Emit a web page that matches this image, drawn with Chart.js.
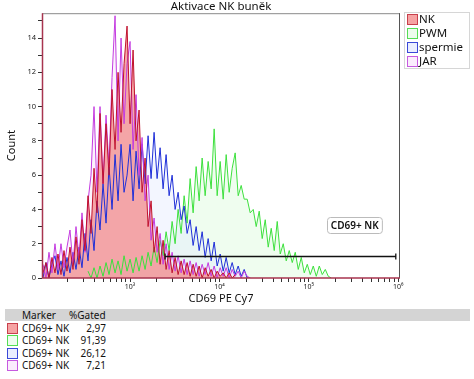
<!DOCTYPE html>
<html><head><meta charset="utf-8">
<script src="https://cdn.jsdelivr.net/npm/chart.js@4.4.1/dist/chart.umd.min.js"></script>
<style>
body{margin:0;background:#fff;font-family:"Noto Sans",sans-serif;}
#wrap{position:relative;width:474px;height:379px;overflow:hidden;background:#fff;}
#c{position:absolute;left:0;top:0;}
#legend{position:absolute;left:404px;top:12px;width:66px;height:57px;border:1px solid #d6d6d6;box-sizing:border-box;}
.li{position:absolute;left:2px;height:12px;font-size:11.5px;line-height:12px;color:#111;white-space:nowrap;}
.sw{position:absolute;left:0;top:0;width:11px;height:11px;border:1px solid;box-sizing:border-box;}
.li span.t{position:absolute;left:12px;top:-1px;}
#thead{position:absolute;left:5px;top:309px;width:465px;height:12px;background:#d4d4d4;font-size:10px;line-height:12px;color:#111;}
.row{position:absolute;left:0;height:12px;font-size:10px;line-height:12px;color:#111;}
.row .sw{left:7px;top:1px;width:11px;height:11px;}
.row .m{position:absolute;left:22px;white-space:nowrap;}
.row .v{position:absolute;left:70px;width:36px;text-align:right;}
</style></head>
<body><div id="wrap"><canvas id="c" width="474" height="306"></canvas>
<div id="legend"></div><div id="thead"><span style="position:absolute;left:17px">Marker</span><span style="position:absolute;left:64px">%Gated</span></div><div id="rows"></div></div>
<script>
// ---- data ----
const chartTitle = 'Aktivace NK buněk';
const seriesNames = ['NK','PWM','spermie','JAR'];
const markerNames = ['CD69+ NK','CD69+ NK','CD69+ NK','CD69+ NK'];
const gatedValues = ['2,97','91,39','26,12','7,21'];
const xTickLabels = {3:'10³',4:'10⁴',5:'10⁵',6:'10⁶'};
// histogram bins in log10 decades
const binStart = 2.0258, binStep = 0.0336;
const nkCounts = [0.3,0.9,0,1.2,0.3,1.4,0.2,1.6,0.4,1.8, 0.5,2.4,0.8,3.4,1.6,4.8,2.6,6.4,3.8,9.6,
  5.5,9.0,6.0,11.0,7.5,12.0,8.5,12.5,14.7,9.0, 13.3,8.0,9.8,5.0,7.0,3.0,4.5,1.5,3.0,0.8,
  2.2,0.5,1.6,0.3,1.2,0.2,1.0,0.2,0.9,0.1, 0.8,0.1,0.7,0,0.6,0.1,0.5,0,0.4,0.1, 0.3,0,0.3,0,0.2];
const jarCounts = [0.8,0,1.5,0.3,2.0,0.5,2.0,0.6,1.8,2.8, 0.8,3.0,1.2,3.8,1.5,4.5,6.0,10.0,5.0,10.0,
  5.5,9.5,6.5,11.7,15.3,8.0,14.0,9.0,12.5,13.8, 7.5,10.7,6.0,8.2,4.5,6.0,2.2,3.5,1.5,2.6,
  0.8,2.0,0.5,1.5,0.4,1.3,0.3,1.1,0.2,1.0, 0.2,0.9,0.1,0.8,0.2,0.9,0.1,0.7,0,0.6,
  0.1,0.6,0,0.5,0.1,0.4,0,0.4,0.1,0];
const spermieCounts = [0,0.9,0,0.8,1.3,0.2,1.0,0.1,1.2,0.3, 1.5,0.5,1.8,0.6,2.6,1.0,3.4,1.6,4.5,2.8,
  5.5,3.2,6.5,4.0,7.2,4.5,7.8,5.0,6.0,7.8, 4.5,7.4,5.2,7.8,5.5,8.3,5.8,8.5,5.8,7.6,
  5.2,7.2,4.8,6.0,4.0,5.0,3.4,4.2,2.6,3.4, 1.9,3.0,1.6,2.7,1.2,2.3,1.0,2.1,0.7,1.4,
  0.4,1.2,0.3,0.9,0.2,0.7,0.1,0.5,0,0];
const pwmFirstBin = 15;
const pwmCounts = [0.4,0,0.6,0,0.7, 0.1,0.9,0.2,1.1,0.3, 1.0,0.2,1.3,0.4,1.1, 0.3,1.2,0.4,1.3,0.5,
  1.5,0.7,1.8,0.9,2.2, 1.3,2.7,1.6,3.3,2.0, 4.0,2.6,4.8,3.2,5.8, 3.8,6.5,4.5,7.0,4.8,
  6.8,5.2,8.7,4.8,6.8, 4.6,7.2,5.0,6.4,7.3, 4.8,5.4,4.6,4.6,3.8, 4.0,3.0,3.9,2.3,3.4,
  1.8,2.9,1.6,3.3,1.4, 2.0,1.0,1.6,0.9,1.5, 0.5,1.2,0.3,0.8,0.2, 0.7,0.1,0.7,0.2,0.5, 0.1,0];
// gate marker
const gateFrom = 3.392, gateTo = 5.973, gateLevel = 1.30;
const gateLabel = 'CD69+ NK', gateLabelX = 5.514, gateLabelY = 3.08;

// ---- styles ----
const lineColors = ['#c0122e','#3ee03e','#2030d8','#c43ce0'];
const fillColors = ['rgba(243,146,146,0.8)','rgba(215,250,215,0.4)','rgba(222,228,255,0.35)','rgba(246,222,250,0.35)'];
const swatchFill = ['#f6a3a3','#eefcee','#eaeeff','#fbedfd'];
const swatchBorder = ['#c8404c','#55dd55','#3a48d8','#c65ae0'];

function toPoints(vals, first){ return vals.map((v,i)=>({x: binStart+(first+i)*binStep, y: v})); }

const seriesData = [toPoints(nkCounts,0), toPoints(pwmCounts,pwmFirstBin), toPoints(spermieCounts,0), toPoints(jarCounts,0)];
const drawOrder = [1,4,3,2]; // lower = on top
const datasets = seriesNames.map((n,i)=>({
  label:n, data:seriesData[i], borderColor:lineColors[i], backgroundColor:fillColors[i],
  borderWidth:1, pointRadius:0, tension:0, fill:'origin', order:drawOrder[i]
}));

// minor/major log ticks
const xTicks = [];
for (let d=2; d<=5; d++) for (let k=1; k<=9; k++) { const v = d + Math.log10(k); if (v>=2.02 && v<=6.01) xTicks.push(v); }
xTicks.push(6);

const framePlugin = {
  id:'frame',
  afterDatasetsDraw(chart){
    const {ctx, chartArea:a, scales:{x,y}} = chart;
    ctx.save();
    // title centred over plot area
    ctx.font = '11.5px "Noto Sans"'; ctx.fillStyle = '#111'; ctx.textAlign='center'; ctx.textBaseline='middle';
    ctx.fillText(chartTitle, (a.left+a.right)/2, 6.5);
    ctx.lineWidth = 1;
    ctx.strokeStyle = '#8a8a8a';
    ctx.beginPath(); ctx.moveTo(a.left, a.top+0.5); ctx.lineTo(a.right, a.top+0.5); ctx.stroke();
    ctx.strokeStyle = '#555';
    ctx.beginPath(); ctx.moveTo(a.right-0.5, a.top); ctx.lineTo(a.right-0.5, a.bottom); ctx.stroke();
    ctx.strokeStyle = '#a8344f'; ctx.lineWidth = 1.5;
    ctx.beginPath(); ctx.moveTo(a.left+0.5, a.top); ctx.lineTo(a.left+0.5, a.bottom); ctx.lineTo(a.right, a.bottom); ctx.stroke();
    // gate
    const xs = x.getPixelForValue(gateFrom), xe = x.getPixelForValue(gateTo), yy = Math.round(y.getPixelForValue(gateLevel))+0.5;
    ctx.strokeStyle = '#111'; ctx.lineWidth = 1.3;
    ctx.beginPath(); ctx.moveTo(xs,yy); ctx.lineTo(xe,yy);
    ctx.moveTo(xs,yy-3); ctx.lineTo(xs,yy+3); ctx.moveTo(xe,yy-3); ctx.lineTo(xe,yy+3); ctx.stroke();
    ctx.font = '600 10px "Noto Sans"';
    const tw = ctx.measureText(gateLabel).width;
    const cx = x.getPixelForValue(gateLabelX), cy = y.getPixelForValue(gateLabelY);
    const w = tw+7, h = 16;
    ctx.fillStyle = '#fff'; ctx.strokeStyle = '#bbb'; ctx.lineWidth = 1;
    ctx.beginPath(); ctx.roundRect(Math.round(cx-w/2)+0.5, Math.round(cy-h/2)+0.5, w, h, 3); ctx.fill(); ctx.stroke();
    ctx.fillStyle = '#111'; ctx.textAlign='center'; ctx.textBaseline='middle';
    ctx.fillText(gateLabel, cx, cy+1);
    ctx.restore();
  }
};

new Chart(document.getElementById('c'), {
  type:'line',
  data:{datasets},
  options:{
    responsive:false, animation:false, devicePixelRatio:1,
    layout:{padding:{left:0,right:74,top:13.2,bottom:1}},
    plugins:{
      legend:{display:false}, tooltip:{enabled:false},
      filler:{drawTime:'beforeDatasetsDraw'},
      title:{display:false}
    },
    scales:{
      x:{type:'linear', min:2.015, max:6.02,
        afterBuildTicks(s){ s.ticks = xTicks.map(v=>({value:v})); },
        afterFit(s){ s.height = 27; },
        grid:{drawOnChartArea:false, color:'#333', tickLength:4},
        border:{display:false},
        ticks:{autoSkip:false, maxRotation:0, padding:1, color:'#222', font:{family:'Noto Sans', size:7},
          callback(v){ const r = Math.round(v); return Math.abs(v-r)<1e-6 && xTickLabels[r] ? xTickLabels[r] : ''; }},
        title:{display:true, text:'CD69 PE Cy7', color:'#111', font:{family:'Noto Sans', size:11, lineHeight:1.2}, padding:{top:0,bottom:0}}
      },
      y:{type:'linear', min:0, max:15.45,
        afterFit(s){ s.width = 42; },
        grid:{drawOnChartArea:false, color:'#333', tickLength:4},
        border:{display:false},
        ticks:{stepSize:1, includeBounds:false, padding:2, color:'#222', font:{family:'Noto Sans', size:7.5},
          callback(v){ return v%2===0 ? String(v) : ''; }},
        title:{display:true, text:'Count', color:'#111', font:{family:'Noto Sans', size:11, lineHeight:1.2}, padding:{top:5,bottom:0}}
      }
    }
  },
  plugins:[framePlugin]
});

// legend
const lg = document.getElementById('legend');
seriesNames.forEach((n,i)=>{
  const d = document.createElement('div'); d.className='li'; d.style.top=(1+i*14)+'px';
  d.innerHTML = '<div class="sw" style="background:'+swatchFill[i]+';border-color:'+swatchBorder[i]+'"></div><span class="t">'+n+'</span>';
  lg.appendChild(d);
});
// stats table
const rows = document.getElementById('rows');
markerNames.forEach((m,i)=>{
  const d = document.createElement('div'); d.className='row'; d.style.top=(322+i*12.3)+'px';
  d.innerHTML = '<div class="sw" style="background:'+swatchFill[i]+';border-color:'+swatchBorder[i]+'"></div><span class="m">'+m+'</span><span class="v">'+gatedValues[i]+'</span>';
  rows.appendChild(d);
});
</script></body></html>
